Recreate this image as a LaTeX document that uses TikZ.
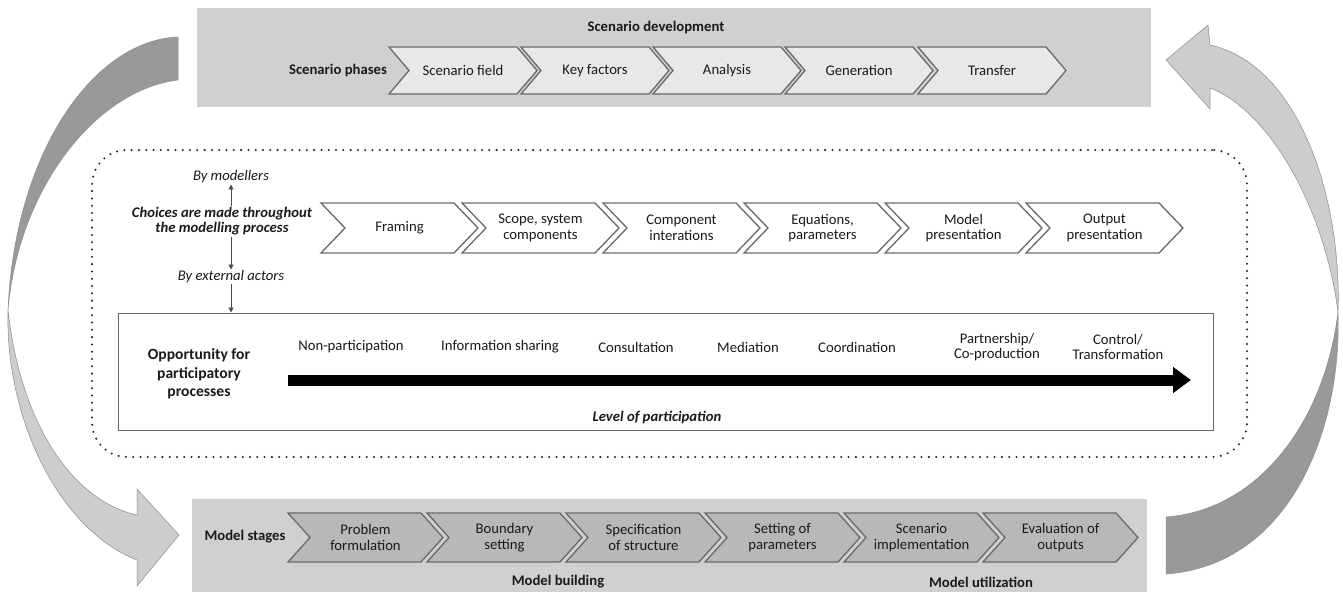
\documentclass[tikz,border=0pt]{standalone}
\usepackage{fontspec}
\setmainfont{Carlito}
\usetikzlibrary{arrows.meta}
\definecolor{boxgray}{HTML}{D0D0D0}
\definecolor{chevlight}{HTML}{E8E8E8}
\definecolor{chevdark}{HTML}{B8B8B8}
\definecolor{edgegray}{HTML}{6A6A6A}
\definecolor{arrdark}{HTML}{999999}
\definecolor{arrlight}{HTML}{CDCDCD}
\definecolor{txt}{HTML}{1A1A1A}
\newcommand{\chevbox}[8]{%
  \path[#6] (#1,#2) -- ({#1+#4-#5},#2) -- ({#1+#4},{(#2+#3)/2}) -- ({#1+#4-#5},#3) -- (#1,#3) -- ({#1+#5},{(#2+#3)/2}) -- cycle;
  \node[lbl, align=center] (#7) at ({#1+#4/2},{(#2+#3)/2}) {#8};}
\tikzset{
  lbl/.style={text=txt, font=\fontsize{14.7}{15.8}\selectfont, inner sep=1pt},
  bl/.style={lbl, font=\fontsize{14.7}{15.8}\selectfont\bfseries},
  itl/.style={lbl, font=\fontsize{14.7}{15.8}\selectfont\itshape},
  bil/.style={lbl, font=\fontsize{14.7}{15.8}\selectfont\bfseries\itshape},
  topchev/.style={fill=chevlight, draw=edgegray, line width=1.3pt},
  midchev/.style={fill=white, draw=edgegray, line width=1.3pt},
  botchev/.style={fill=chevdark, draw=edgegray, line width=1.3pt},
  graybox/.style={fill=boxgray, draw=none, inner sep=0pt},
  smallarr/.style={draw=black!70, line width=0.9pt, -{Triangle[length=5pt,width=5pt]}},
  bandark/.style={fill=arrdark, draw=black!45, line width=0.5pt},
  banlight/.style={fill=arrlight, draw=black!45, line width=0.5pt},
  dotframe/.style={draw=black!85, line width=2.3pt, dash pattern=on 0pt off 7.3pt, line cap=round, rounded corners=35pt, inner sep=0pt},
}
\begin{document}
\begin{tikzpicture}[x=1pt, y=-1pt]
\useasboundingbox (0,0) rectangle (1343,592);
\fill[white] (0,0) rectangle (1343,592);

% gray boxes
\node[graybox, minimum width=954pt, minimum height=99pt] (topbox) at (674,57.5) {};
\node[graybox, minimum width=955pt, minimum height=93pt] (botbox) at (669.5,545.5) {};

% dotted frame
\node[dotframe, minimum width=1155pt, minimum height=307pt] (frame) at (669.5,303.5) {};

% top row
\node[bl] (scendev) at (656,27) {Scenario development};
\node[bl] (scenph) at (338,70) {Scenario phases};
\chevbox{389}{47}{94}{148}{20}{topchev}{sfield}{Scenario field}
\chevbox{521}{47}{94}{148}{20}{topchev}{keyf}{Key factors}
\chevbox{653}{47}{94}{148}{20}{topchev}{analysis}{Analysis}
\chevbox{785}{47}{94}{148}{20}{topchev}{generation}{Generation}
\chevbox{918}{47}{94}{148}{20}{topchev}{transfer}{Transfer}

% middle row
\node[itl] (bymod) at (231,177) {By modellers};
\node[bil, align=center] (choices) at (222,221) {Choices are made throughout\\the modelling process};
\node[itl] (byext) at (231,277) {By external actors};
\chevbox{321}{203}{253}{157}{24}{midchev}{framing}{Framing}
\chevbox{462}{203}{253}{157}{24}{midchev}{scope}{Scope, system\\components}
\chevbox{603}{203}{253}{157}{24}{midchev}{compint}{Component\\interations}
\chevbox{744}{203}{253}{157}{24}{midchev}{equations}{Equations,\\parameters}
\chevbox{885}{203}{253}{157}{24}{midchev}{modpres}{Model\\presentation}
\chevbox{1026}{203}{253}{157}{24}{midchev}{outpres}{Output\\presentation}

% opportunity box
\node[draw=edgegray, line width=1pt, minimum width=1095pt, minimum height=117pt, inner sep=0pt] (opp) at (665.5,371.5) {};
\draw[smallarr] (bymod.south |- choices.north) -- (bymod.south);
\draw[smallarr] (byext.north |- choices.south) -- (byext.north);
\draw[smallarr] (byext.south) -- (byext.south |- opp.north);

\node[bl, align=center, font=\fontsize{15.6}{18.5}\selectfont\bfseries] (opptext) at (199,374) {Opportunity for\\participatory\\processes};
\node[lbl] (l1) at (351,347) {Non-participation};
\node[lbl] (l2) at (500,347) {Information sharing};
\node[lbl] (l3) at (636,347) {Consultation};
\node[lbl] (l4) at (748,347) {Mediation};
\node[lbl] (l5) at (857,347) {Coordination};
\node[lbl, align=center] (l6) at (997,347) {Partnership/\\Co-production};
\node[lbl, align=center] (l7) at (1118,347) {Control/\\Transformation};
\coordinate (pstart) at (288,380);
\coordinate (pend) at (1191,380);
\draw[line width=11pt, -{Triangle[length=18pt,width=25pt]}] (pstart) -- (pend);
\node[bil] (level) at (657,417) {Level of participation};

% bottom row
\node[bl] (modst) at (245,537) {Model stages};
\chevbox{288}{513}{562}{155}{22}{botchev}{problem}{Problem\\formulation}
\chevbox{427}{513}{562}{155}{22}{botchev}{boundary}{Boundary\\setting}
\chevbox{566}{513}{562}{155}{22}{botchev}{specif}{Specification\\of structure}
\chevbox{705}{513}{562}{155}{22}{botchev}{setting}{Setting of\\parameters}
\chevbox{844}{513}{562}{155}{22}{botchev}{scenimp}{Scenario\\implementation}
\chevbox{983}{513}{562}{155}{22}{botchev}{evalout}{Evaluation of\\outputs}
\node[bl] (modbuild) at (558,582) {Model building};
\node[bl] (modutil) at (981,582) {Model utilization};

% left curved arrow
\path[bandark] (178,37) .. controls (95,40) and (15,150) .. (8,310) .. controls (18,190) and (95,90) .. (178,80) -- cycle;
\path[banlight] (8,310) .. controls (5,420) and (60,530) .. (137,560) -- (137,586) -- (179,535) -- (137,489) -- (137,515) .. controls (70,500) and (20,420) .. (8,310) -- cycle;

% right curved arrow
\path[banlight] (1338,312) .. controls (1342,200) and (1300,65) .. (1210,45) -- (1208,25) -- (1166,60) -- (1210,109) -- (1210,88) .. controls (1268,110) and (1324,205) .. (1338,312) -- cycle;
\path[bandark] (1338,312) .. controls (1342,430) and (1290,565) .. (1166,574) -- (1166,517) .. controls (1260,510) and (1325,420) .. (1338,312) -- cycle;
\end{tikzpicture}
\end{document}
